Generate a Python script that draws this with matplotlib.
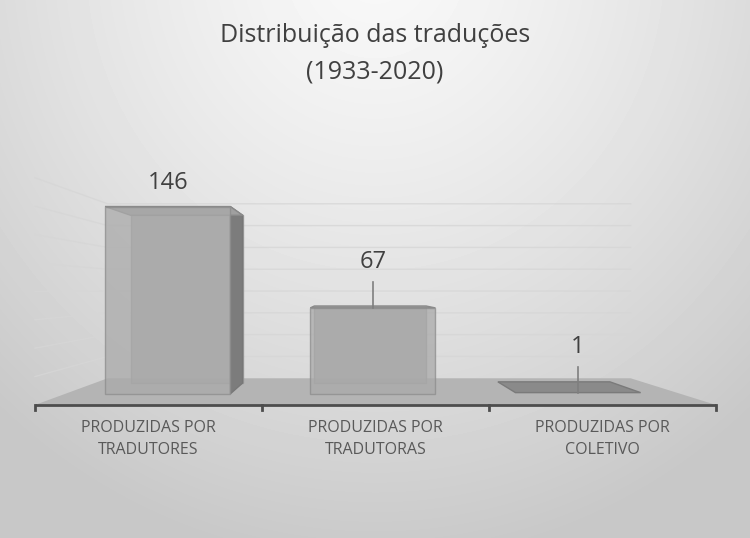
import numpy as np
import matplotlib
matplotlib.use("Agg")
import matplotlib.pyplot as plt
from matplotlib.patches import Polygon

# ---------------- data ----------------
title_lines = ["Distribuição das traduções", "(1933-2020)"]
categories = ["PRODUZIDAS POR\nTRADUTORES", "PRODUZIDAS POR\nTRADUTORAS", "PRODUZIDAS POR\nCOLETIVO"]
values = [146, 67, 1]
grid_values = [0, 20, 40, 60, 80, 100, 120, 140, 160]

# ---------------- style / geometry ----------------
FONT = ["Open Sans", "DejaVu Sans"]
VPX, VPY = 0.88, 81.0        # vanishing point (category units, value units)
S_FRONT_FLOOR = 1.0
S_BACK_WALL = 0.768
S_BAR_FRONT = 0.904
S_BAR_BACK = 0.809
BAR_HALF = 0.305
label_offsets = [8, 24, 24]   # label gap above bar (value units)
leader = [False, True, True]

def proj(x, v, s):
    return (VPX + (x - VPX) * s, VPY + (v - VPY) * s)

fig = plt.figure(figsize=(7.5, 5.38), dpi=100)

# background gradient
bg = fig.add_axes([0, 0, 1, 1])
yy, xx = np.mgrid[0:538, 0:750]
d = np.sqrt(((xx - 375) / 560.0) ** 2 + ((yy + 40) / 600.0) ** 2)
d = np.clip(d, 0, 1)
shade = 0.975 - 0.19 * d ** 1.3
bg.imshow(shade, cmap="gray", vmin=0, vmax=1, aspect="auto", extent=[0, 1, 0, 1], origin="upper")
bg.set_xlim(0, 1); bg.set_ylim(0, 1)
bg.axis("off")

ax = fig.add_axes([0, 0, 1, 1])
ax.set_xlim(-0.654, 2.650)
ax.set_ylim(-93.7, 285.2)
ax.axis("off")
ax.patch.set_alpha(0)

xl, xr = -0.5, 2.5

# floor
floor = [proj(xl, 0, S_FRONT_FLOOR), proj(xr, 0, S_FRONT_FLOOR),
         proj(xr, 0, S_BACK_WALL), proj(xl, 0, S_BACK_WALL)]
ax.add_patch(Polygon(floor, closed=True, facecolor="#b4b4b4", edgecolor="none", zorder=2))

# gridlines: back wall and left wall
for g in grid_values[1:]:
    p1 = proj(xl, g, S_FRONT_FLOOR)
    p2 = proj(xl, g, S_BACK_WALL)
    p3 = proj(xr, g, S_BACK_WALL)
    ax.plot([p1[0], p2[0], p3[0]], [p1[1], p2[1], p3[1]], color="#d6d6d6", lw=1.0, zorder=1, alpha=0.8)

# bars
for i, v in enumerate(values):
    x0, x1 = i - BAR_HALF, i + BAR_HALF
    def face(pts, fc, ec, z, a=0.85):
        ax.add_patch(Polygon([proj(*p) for p in pts], closed=True, facecolor=fc,
                             edgecolor=ec, lw=1.0, alpha=a, zorder=z))
    sf, sb = S_BAR_FRONT, S_BAR_BACK
    if v <= 2:
        face([(x0, v, sf), (x1, v, sf), (x1, v, sb), (x0, v, sb)], "#8a8a8a", "#7a7a7a", 3, 1.0)
        continue
    face([(x0, 0, sb), (x1, 0, sb), (x1, v, sb), (x0, v, sb)], "#a8a8a8", "#9a9a9a", 3)
    if x1 < VPX:
        face([(x1, 0, sf), (x1, 0, sb), (x1, v, sb), (x1, v, sf)], "#7c7c7c", "#777777", 4, 1.0)
    if x0 > VPX:
        face([(x0, 0, sf), (x0, 0, sb), (x0, v, sb), (x0, v, sf)], "#7c7c7c", "#777777", 4, 1.0)
    face([(x0, v, sf), (x1, v, sf), (x1, v, sb), (x0, v, sb)], "#a0a0a0", "#8a8a8a", 4, 1.0)
    face([(x0, 0, sf), (x1, 0, sf), (x1, v, sf), (x0, v, sf)], "#aaaaaa", "#8c8c8c", 5, 0.75)

# data labels
for i, v in enumerate(values):
    tx, ty = proj(i, v, S_BAR_FRONT)
    ly = ty + label_offsets[i]
    if leader[i]:
        ax.plot([tx, tx], [ty, ly - 6], color="#7f7f7f", lw=1.2, zorder=6)
    ax.text(tx, ly, str(v), ha="center", va="bottom", fontsize=17,
            color="#404040", family=FONT, zorder=7)

# category axis
ax.plot([xl, xr], [0, 0], color="#4d4d4d", lw=2.0, zorder=6, solid_capstyle="butt")
for b in [-0.5, 0.5, 1.5, 2.5]:
    ax.plot([b, b], [0, -3.5], color="#4d4d4d", lw=2.0, zorder=6)
for i, c in enumerate(categories):
    ax.text(i, -10.5, c, ha="center", va="top", fontsize=11.5, color="#595959",
            family=FONT, linespacing=1.55)

fig.text(0.5, 1 - 35 / 538, title_lines[0], ha="center", va="center", fontsize=18,
         color="#404040", family=FONT)
fig.text(0.5, 1 - 72 / 538, title_lines[1], ha="center", va="center", fontsize=18,
         color="#404040", family=FONT)

fig.savefig("out.png", dpi=100)
